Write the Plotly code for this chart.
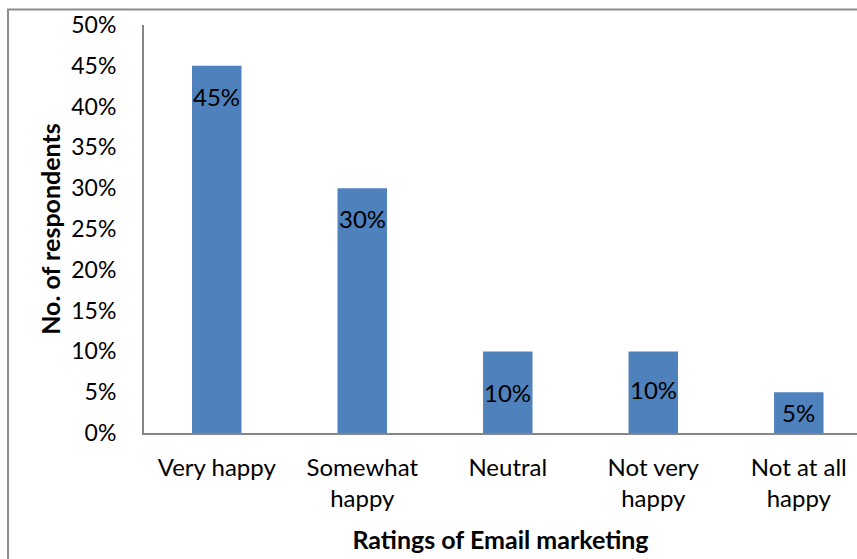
import plotly.graph_objects as go

# Survey results: how respondents rate email marketing
categories = ["Very happy", "Somewhat<br>happy", "Neutral", "Not very<br>happy", "Not at all<br>happy"]
shares = [0.45, 0.30, 0.10, 0.10, 0.05]
y_ticks = [0.0, 0.05, 0.10, 0.15, 0.20, 0.25, 0.30, 0.35, 0.40, 0.45, 0.50]

# vertical offset (px) of each value label below its bar top
label_shift = [-31, -30, -41, -38, -20]

FONT = "Lato"
BAR = "#4F81BD"
AXIS = "#868686"

fig = go.Figure(
    go.Bar(
        x=categories,
        y=shares,
        marker=dict(color=BAR, line=dict(width=0)),
        width=0.34,
        hoverinfo="skip",
    )
)

for cat, val, shift in zip(categories, shares, label_shift):
    fig.add_annotation(
        x=cat, y=val, yshift=shift, text=f"{val:.0%}",
        showarrow=False, yanchor="middle", xanchor="center",
        font=dict(family=FONT, size=24, color="#000000"),
    )

# chart frame
fig.add_shape(
    type="rect", xref="paper", yref="paper",
    x0=-0.1907, x1=1.2, y0=-0.5, y1=1.038,
    line=dict(color="#8C8C8C", width=2), fillcolor="rgba(0,0,0,0)", layer="below",
)

fig.update_layout(
    width=857, height=559,
    margin=dict(l=144, r=0, t=25, b=126),
    paper_bgcolor="white", plot_bgcolor="white",
    showlegend=False,
    font=dict(family=FONT, size=24, color="#000000"),
    xaxis=dict(
        range=[-0.5, 4.4],
        showline=True, linecolor=AXIS, linewidth=2,
        showgrid=False, zeroline=False, ticks="",
        ticklabelstandoff=12,
        tickfont=dict(family=FONT, size=24),
        title=dict(text="<b>Ratings of Email marketing</b>", standoff=20,
                   font=dict(family=FONT, size=25)),
    ),
    yaxis=dict(
        range=[0, 0.5],
        tickvals=y_ticks, tickformat=".0%",
        showline=True, linecolor=AXIS, linewidth=2,
        showgrid=False, zeroline=False, ticks="",
        ticklabelstandoff=21,
        tickfont=dict(family=FONT, size=23),
        title=dict(text="<b>No. of respondents</b>", standoff=4,
                   font=dict(family=FONT, size=25)),
    ),
)

fig.write_html("out.html")
